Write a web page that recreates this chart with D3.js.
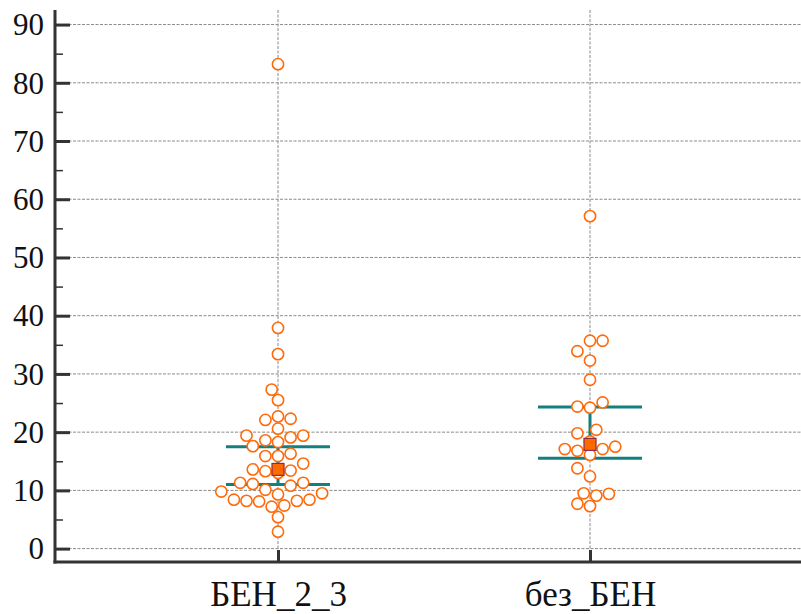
<!DOCTYPE html>
<html>
<head>
<meta charset="utf-8">
<script src="https://cdn.jsdelivr.net/npm/d3@7"></script>
<style>
  html, body { margin: 0; padding: 0; background: #fff; }
  svg { display: block; }
</style>
</head>
<body>
<svg id="chart" width="801" height="614"></svg>
<script>
// ---- data ----
const categories = ["БЕН_2_3", "без_БЕН"];
const valuesBEN23 = [83.2, 37.9, 33.4, 27.3, 25.5, 22.7, 22.3, 22.1, 20.6, 19.4, 19.4, 19.1, 18.6, 18.3, 17.6,
  16.3, 15.9, 15.9, 14.6, 13.6, 13.4, 13.3, 13.0, 11.3, 11.3, 11.1, 10.8, 10.1, 9.8, 9.5, 9.3,
  8.4, 8.4, 8.2, 8.2, 8.1, 7.4, 7.2, 5.4, 2.9];
const valuesBezBEN = [57.1, 35.7, 35.7, 33.9, 32.3, 29.0, 25.1, 24.4, 24.2, 20.4, 19.8, 18.4, 17.5, 17.1, 17.1,
  16.8, 16.1, 13.8, 12.4, 9.5, 9.4, 9.1, 7.7, 7.3];
const centerValues = [13.6, 17.9];
const lowerValues = [11.0, 15.5];
const upperValues = [17.5, 24.3];
const majorTicks = [0, 10, 20, 30, 40, 50, 60, 70, 80, 90];
const minorTicks = [5, 15, 25, 35, 45, 55, 65, 75, 85];

// ---- layout ----
const svg = d3.select("#chart");
const pLeft = 55, pRight = 801, pTop = 10, pBottom = 562;
const y = d3.scaleLinear().domain([-2.3, 92.5]).range([pBottom, pTop]);
const x = d3.scalePoint().domain(categories).range([278, 590]);
const orange = "#ff6a0a";
const teal = "#137f7f";
const r = 5.6;
const serifStack = "'Liberation Serif', 'Times New Roman', Times, Tinos, 'DejaVu Serif', serif";

// gridlines
const grid = svg.append("g");
grid.selectAll("line.h").data(majorTicks).join("line")
  .attr("x1", pLeft).attr("x2", pRight)
  .attr("y1", d => y(d)).attr("y2", d => y(d))
  .attr("stroke", "#8a8a8a").attr("stroke-width", 1).attr("stroke-dasharray", "3,1.5");
grid.selectAll("line.v").data(categories).join("line")
  .attr("x1", d => x(d)).attr("x2", d => x(d))
  .attr("y1", pTop).attr("y2", pBottom)
  .attr("stroke", "#8a8a8a").attr("stroke-width", 1).attr("stroke-dasharray", "3,1.5");

// y axis (major)
const yAxis = svg.append("g").attr("transform", `translate(${pLeft},0)`)
  .call(d3.axisLeft(y).tickValues(majorTicks).tickSize(-15).tickSizeOuter(0).tickPadding(11));
yAxis.attr("font-family", serifStack);
yAxis.select(".domain").remove();
yAxis.selectAll(".tick line").attr("stroke", "#333").attr("stroke-width", 3);
yAxis.selectAll(".tick text").attr("font-family", serifStack)
  .style("font-size", "31px").attr("fill", "#111").attr("dy", "0.33em");
// minor ticks
const yMinor = svg.append("g").attr("transform", `translate(${pLeft},0)`)
  .call(d3.axisLeft(y).tickValues(minorTicks).tickSize(-8).tickFormat(""));
yMinor.select(".domain").remove();
yMinor.selectAll(".tick line").attr("stroke", "#333").attr("stroke-width", 1.5);

// x axis
const xAxis = svg.append("g").attr("transform", `translate(0,${pBottom})`)
  .call(d3.axisBottom(x).tickSize(-12).tickSizeOuter(0));
xAxis.attr("font-family", serifStack);
xAxis.select(".domain").remove();
xAxis.selectAll(".tick line").attr("stroke", "#333").attr("stroke-width", 3);
xAxis.selectAll(".tick text").attr("font-family", serifStack)
  .style("font-size", "35px").attr("fill", "#111").attr("y", 44).attr("dy", 0);

// axis lines
svg.append("line").attr("x1", pLeft).attr("x2", pLeft).attr("y1", pTop).attr("y2", pBottom + 1.5)
  .attr("stroke", "#333").attr("stroke-width", 3);
svg.append("line").attr("x1", pLeft - 1.5).attr("x2", pRight).attr("y1", pBottom).attr("y2", pBottom)
  .attr("stroke", "#333").attr("stroke-width", 3);

// interval lines
const halfW = 52;
const stat = svg.append("g");
categories.forEach((c, i) => {
  const cx = x(c);
  stat.append("line").attr("x1", cx).attr("x2", cx)
    .attr("y1", y(upperValues[i])).attr("y2", y(lowerValues[i]))
    .attr("stroke", teal).attr("stroke-width", 3);
  [upperValues[i], lowerValues[i]].forEach(v => {
    stat.append("line").attr("x1", cx - halfW).attr("x2", cx + halfW)
      .attr("y1", y(v)).attr("y2", y(v))
      .attr("stroke", teal).attr("stroke-width", 3);
  });
});

// beeswarm placement
function swarm(values, cx) {
  const step = r + 0.7;
  const minD = 2 * r + 0.6;
  const placed = [];
  const sorted = values.slice().sort((a, b) => a - b);
  sorted.forEach(v => {
    const py = y(v);
    for (let k = 0; k < 40; k++) {
      const m = k === 0 ? 0 : (k % 2 === 1 ? -(k + 1) / 2 : k / 2);
      const px = cx + m * step;
      const ok = placed.every(p => Math.hypot(p.x - px, p.y - py) >= minD);
      if (ok) { placed.push({ x: px, y: py, v }); break; }
    }
  });
  return placed;
}

const pts = svg.append("g");
const groups = [valuesBEN23, valuesBezBEN];
categories.forEach((c, i) => {
  pts.append("g").selectAll("circle").data(swarm(groups[i], x(c))).join("circle")
    .attr("cx", d => d.x).attr("cy", d => d.y).attr("r", r)
    .attr("fill", "#fff").attr("stroke", orange).attr("stroke-width", 1.6);
});

// center markers
const sq = 12;
svg.append("g").selectAll("rect").data(categories).join("rect")
  .attr("x", d => x(d) - sq / 2)
  .attr("y", (d, i) => y(centerValues[i]) - sq / 2)
  .attr("width", sq).attr("height", sq)
  .attr("fill", "#ff6a00").attr("stroke", "#8b2a4a").attr("stroke-width", 1.2);
</script>
</body>
</html>
